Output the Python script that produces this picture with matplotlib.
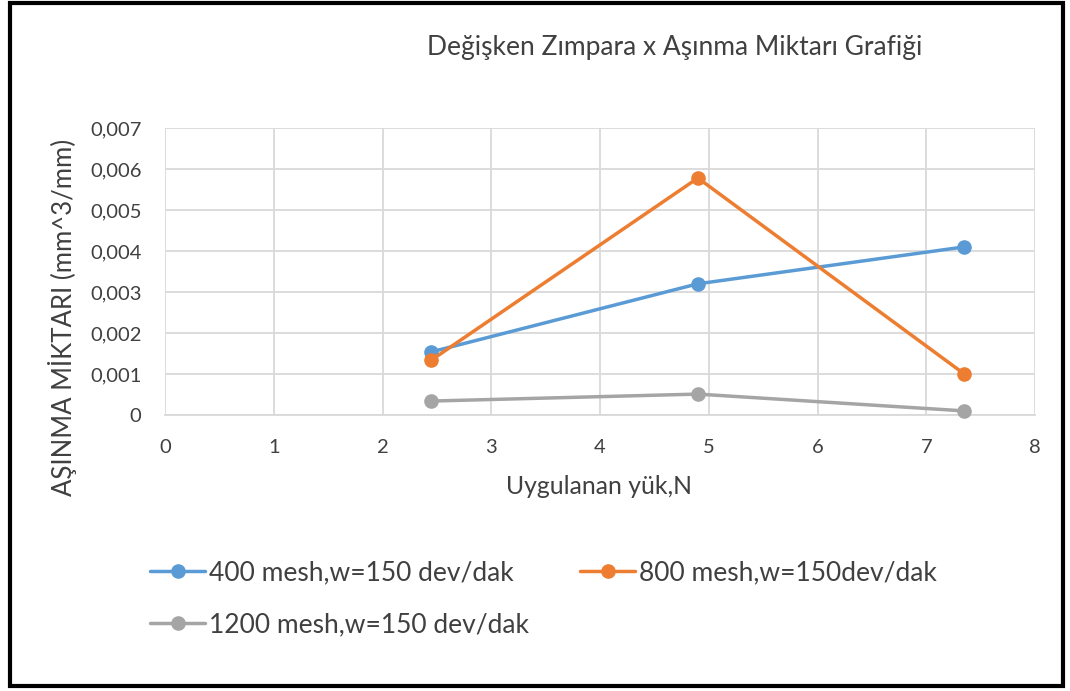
import matplotlib
matplotlib.use("Agg")
import matplotlib.pyplot as plt
from matplotlib.patches import Rectangle
from matplotlib.ticker import FuncFormatter

plt.rcParams['font.family'] = ['Lato', 'DejaVu Sans']

title = "Değişken Zımpara x Aşınma Miktarı Grafiği"
xlabel = "Uygulanan yük,N"
ylabel = "AŞINMA MİKTARI (mm^3/mm)"
loads = [2.45, 4.9, 7.35]
series_names = ["400 mesh,w=150 dev/dak", "800 mesh,w=150dev/dak", "1200 mesh,w=150 dev/dak"]
s400 = [0.00154, 0.00320, 0.00410]
s800 = [0.00134, 0.00578, 0.00100]
s1200 = [0.00034, 0.00051, 0.00010]
colors = ["#5B9BD5", "#ED7D31", "#A5A5A5"]
xticks = [0, 1, 2, 3, 4, 5, 6, 7, 8]
yticks = [0, 0.001, 0.002, 0.003, 0.004, 0.005, 0.006, 0.007]

W, H = 1070, 691
TXT = "#404040"
fig = plt.figure(figsize=(W / 100, H / 100), dpi=100)
ax = fig.add_axes([165 / W, 1 - 415 / H, (1035 - 165) / W, (415 - 128) / H])

handles = []
for vals, c, name in zip([s400, s800, s1200], colors, series_names):
    h, = ax.plot(loads, vals, color=c, lw=2.5, marker='o', markersize=9.5, label=name,
                 solid_capstyle='round', clip_on=False, zorder=3)
    handles.append(h)

ax.set_xlim(0, 8)
ax.set_ylim(0, 0.007)
ax.set_xticks(xticks)
ax.set_yticks(yticks)
ax.yaxis.set_major_formatter(FuncFormatter(lambda v, p: "0" if abs(v) < 1e-12 else f"{v:.3f}".replace('.', ',')))
ax.grid(True, color="#D9D9D9", lw=1.3)
ax.set_axisbelow(True)
for s in ['top', 'right', 'left']:
    ax.spines[s].set_visible(False)
ax.spines['bottom'].set_color("#D9D9D9")
ax.spines['bottom'].set_linewidth(1.3)
ax.tick_params(length=0, labelsize=14.5, labelcolor=TXT)
ax.tick_params(axis='y', pad=17)
ax.tick_params(axis='x', pad=17)

ax.set_xlabel(xlabel, fontsize=17.8, color=TXT, va='center')
ax.xaxis.set_label_coords((599 - 165) / 870, (415 - 487) / 287)
ax.set_ylabel(ylabel, fontsize=18.5, color=TXT, va='center')
ax.yaxis.set_label_coords((63 - 165) / 870, (415 - 317) / 287)

fig.text(675 / W, 1 - 47 / H, title, ha='center', va='center', fontsize=19, color=TXT)

legend_pos = [(150, 573), (580, 573), (150, 625)]
for h, (lx, ly) in zip(handles, legend_pos):
    leg = fig.legend(handles=[h], loc='center left', bbox_to_anchor=(lx / W, 1 - ly / H),
                     frameon=False, fontsize=19, labelcolor=TXT, borderpad=0,
                     borderaxespad=0, handlelength=2.1, handletextpad=0.15)

fig.patches.append(Rectangle((10 / W, 1 - 686 / H), (1063 - 10) / W, (686 - 3) / H,
                             transform=fig.transFigure, fill=False, ec='black', lw=3))

fig.savefig("out.png", dpi=100)
